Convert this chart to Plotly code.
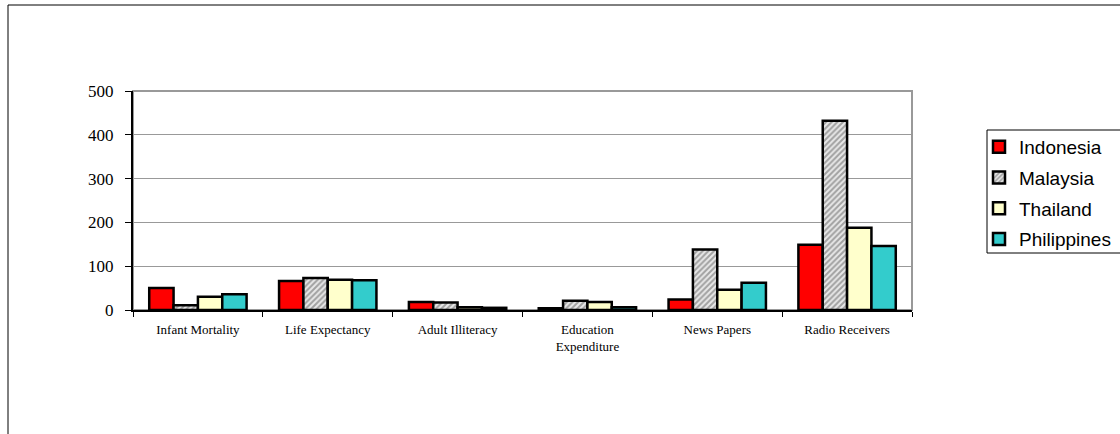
import plotly.graph_objects as go

categories = ["Infant Mortality", "Life Expectancy", "Adult Illiteracy",
              "Education<br>Expenditure", "News Papers", "Radio Receivers"]
indonesia = [50, 66, 18, 4, 24, 149]
malaysia = [11, 73, 17, 21, 138, 432]
thailand = [30, 69, 6, 18, 46, 188]
philippines = [36, 68, 5, 6, 62, 146]
y_ticks = [0, 100, 200, 300, 400, 500]

SERIF = "Liberation Serif"
SANS = "Liberation Sans"

fig = go.Figure()
line = dict(color="black", width=2.5)
fig.add_bar(name="Indonesia", x=categories, y=indonesia,
            marker=dict(color="#FF0000", line=line), legendgroup="a")
fig.add_bar(name="Malaysia", x=categories, y=malaysia,
            marker=dict(color="white", line=line,
                        pattern=dict(shape="/", fgcolor="#5a5a5a", bgcolor="#e8e8e8",
                                     size=4, solidity=0.5)), legendgroup="b")
fig.add_bar(name="Thailand", x=categories, y=thailand,
            marker=dict(color="#FFFFCC", line=line), legendgroup="c")
fig.add_bar(name="Philippines", x=categories, y=philippines,
            marker=dict(color="#33CCCC", line=line), legendgroup="d")

W, H = 1120, 434
L, R, T, B = 133, 208, 91, 124
pw, ph = W - L - R, H - T - B

def px_x(p):
    return (p - L) / pw

def px_y(p):
    return 1 - (p - T) / ph

fig.update_layout(
    width=W, height=H,
    margin=dict(l=L, r=R, t=T, b=B, autoexpand=False),
    paper_bgcolor="white", plot_bgcolor="white",
    barmode="group", bargap=0.25, bargroupgap=0,
    font=dict(family=SERIF, color="black"),
    legend=dict(xref="container", yref="container",
                x=979 / W, y=1 - 128 / H, xanchor="left", yanchor="top",
                borderwidth=0, bgcolor="rgba(0,0,0,0)",
                font=dict(family=SANS, size=19, color="black"),
                tracegroupgap=3, traceorder="grouped"),
    xaxis=dict(type="category", tickson="boundaries", ticks="outside", ticklen=5,
               tickcolor="black", tickwidth=1, showline=True, linecolor="black",
               linewidth=2, tickfont=dict(family=SERIF, size=13, color="black"),
               showgrid=False, ticklabelstandoff=6),
    yaxis=dict(range=[0, 500], tickvals=y_ticks, ticks="outside", ticklen=6,
               tickcolor="black", showline=True, linecolor="black", linewidth=2,
               showgrid=True, gridcolor="#999999", gridwidth=1,
               tickfont=dict(family=SERIF, size=17, color="black"), zeroline=False,
               ticklabelstandoff=8),
    shapes=[
        dict(type="rect", xref="paper", yref="paper", x0=0, x1=1, y0=0, y1=1,
             line=dict(color="#999999", width=2), layer="below"),
        dict(type="rect", xref="paper", yref="paper",
             x0=px_x(8), x1=1.5, y0=-1, y1=px_y(5),
             line=dict(color="black", width=1), layer="below"),
        dict(type="rect", xref="paper", yref="paper",
             x0=px_x(987), x1=1.5, y0=px_y(253), y1=px_y(130),
             line=dict(color="black", width=1), fillcolor="white", layer="below"),
    ],
)

fig.write_html("out.html")
